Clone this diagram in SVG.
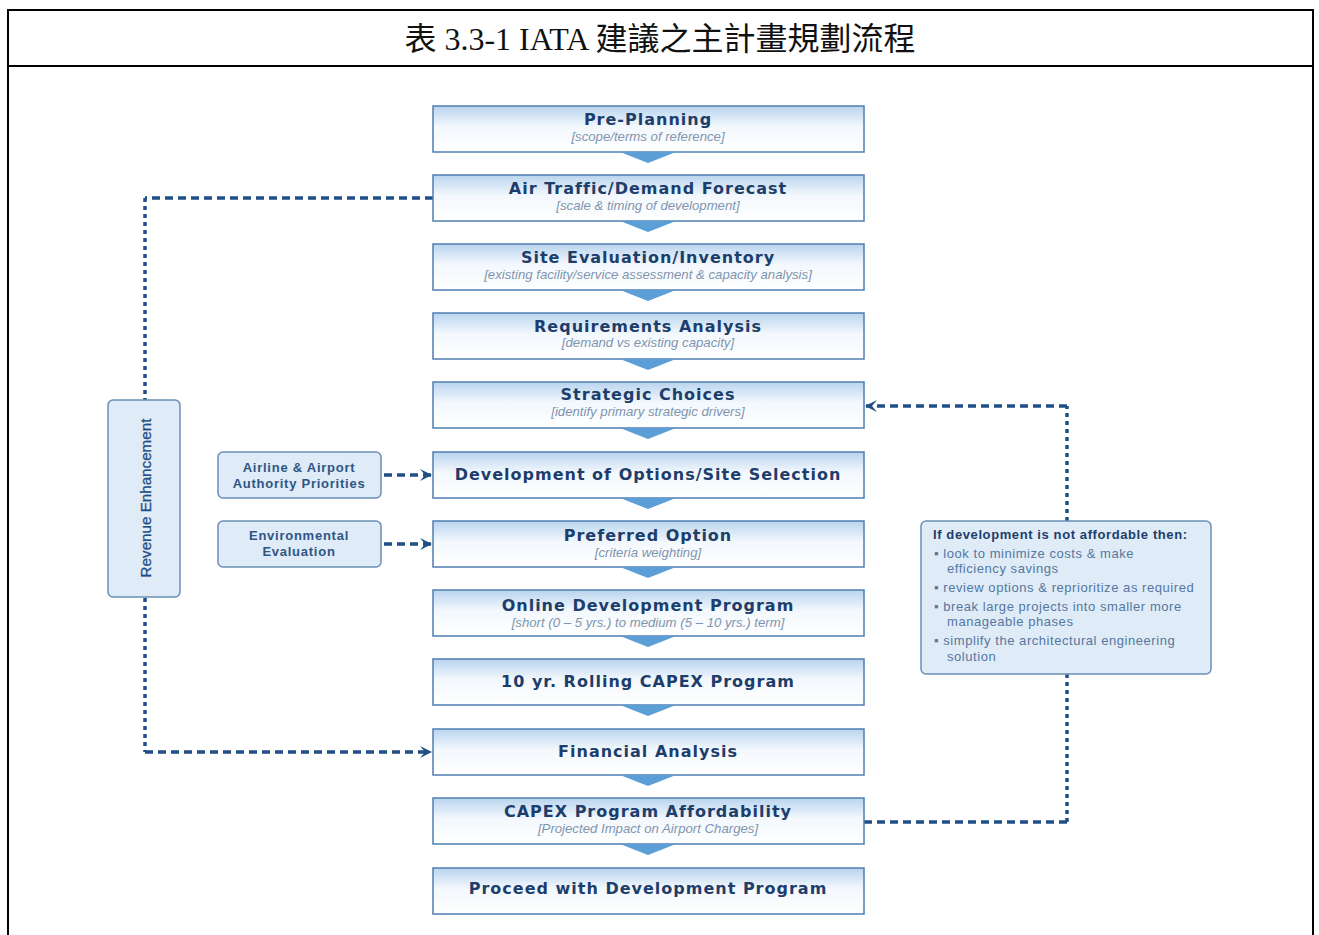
<svg xmlns="http://www.w3.org/2000/svg" width="1319" height="935" viewBox="0 0 1319 935">
<defs>
<linearGradient id="boxg" x1="0" y1="0" x2="0" y2="1">
<stop offset="0" stop-color="#b9d4ee"/>
<stop offset="0.45" stop-color="#f3f8fd"/>
<stop offset="1" stop-color="#ffffff"/>
</linearGradient>
<marker id="arr" viewBox="0 0 12 12" refX="11" refY="6" markerWidth="12" markerHeight="12" markerUnits="userSpaceOnUse" orient="auto">
<path d="M0,0 L12,6 L0,12 L5,6 Z" fill="#1f4f85"/>
</marker>
<style>
.frame{fill:none;stroke:#000;stroke-width:2}
.box{fill:url(#boxg);stroke:#4f7fb0;stroke-width:1.5}
.tri{fill:#5b9fd6}
.side{fill:#dfebf7;stroke:#6a90b8;stroke-width:1.5}
.t{font-family:"DejaVu Sans",sans-serif;font-weight:bold;font-size:16px;fill:#1d3e6b;text-anchor:middle;letter-spacing:1px}
.s{font-family:"Liberation Sans",sans-serif;font-style:italic;font-size:13.2px;fill:#7f95ae;text-anchor:middle}
.l{font-family:"Liberation Sans",sans-serif;font-weight:bold;font-size:13px;fill:#2e5585;text-anchor:middle;letter-spacing:0.75px}
.r{font-family:"Liberation Sans",sans-serif;font-size:13px;fill:#5577a0;letter-spacing:0.55px}
.rb{font-family:"Liberation Sans",sans-serif;font-weight:bold;font-size:13px;fill:#1d3e6b;letter-spacing:0.6px}
.d{fill:none;stroke:#1f4f85;stroke-width:3.5;stroke-dasharray:8 5}
.dv{fill:none;stroke:#1f4f85;stroke-width:3.5;stroke-dasharray:4 4}
.cap{font-family:"Liberation Serif","Noto Sans CJK TC",serif;font-size:32px;fill:#111;text-anchor:middle}
</style>
</defs>
<g id="frame">
<path class="frame" d="M8,935 V10 H1313 V935 M8,66 H1313"/>
<text class="cap" x="660" y="50">表 3.3-1 IATA 建議之主計畫規劃流程</text>
</g>
<g id="connectors">
<path class="d" d="M433,198 H145"/>
<path class="dv" d="M145,198 V400"/>
<path class="dv" d="M145,598 V752"/>
<path class="d" d="M145,752 H431" marker-end="url(#arr)"/>
<path class="d" d="M384,475 H431" marker-end="url(#arr)"/>
<path class="d" d="M384,544 H431" marker-end="url(#arr)"/>
<path class="d" d="M864,822 H1067"/>
<path class="dv" d="M1067,822 V674"/>
<path class="dv" d="M1067,521 V406"/>
<path class="d" d="M1067,406 H866" marker-end="url(#arr)"/>
</g>
<g id="n1"><rect class="box" x="433" y="106" width="431" height="46"/><path class="tri" d="M620,152 H676 L648,163 Z"/><text class="t" x="648" y="125">Pre-Planning</text><text class="s" x="648" y="141">[scope/terms of reference]</text></g>
<g id="n2"><rect class="box" x="433" y="175" width="431" height="46"/><path class="tri" d="M620,221 H676 L648,232 Z"/><text class="t" x="648" y="194">Air Traffic/Demand Forecast</text><text class="s" x="648" y="210">[scale &amp; timing of development]</text></g>
<g id="n3"><rect class="box" x="433" y="244" width="431" height="46"/><path class="tri" d="M620,290 H676 L648,301 Z"/><text class="t" x="648" y="263">Site Evaluation/Inventory</text><text class="s" x="648" y="279">[existing facility/service assessment &amp; capacity analysis]</text></g>
<g id="n4"><rect class="box" x="433" y="313" width="431" height="46"/><path class="tri" d="M620,359 H676 L648,370 Z"/><text class="t" x="648" y="332">Requirements Analysis</text><text class="s" x="648" y="347">[demand vs existing capacity]</text></g>
<g id="n5"><rect class="box" x="433" y="382" width="431" height="46"/><path class="tri" d="M620,428 H676 L648,439 Z"/><text class="t" x="648" y="400">Strategic Choices</text><text class="s" x="648" y="416">[identify primary strategic drivers]</text></g>
<g id="n6"><rect class="box" x="433" y="452" width="431" height="46"/><path class="tri" d="M620,498 H676 L648,509 Z"/><text class="t" x="648" y="480">Development of Options/Site Selection</text></g>
<g id="n7"><rect class="box" x="433" y="521" width="431" height="46"/><path class="tri" d="M620,567 H676 L648,578 Z"/><text class="t" x="648" y="541">Preferred Option</text><text class="s" x="648" y="557">[criteria weighting]</text></g>
<g id="n8"><rect class="box" x="433" y="590" width="431" height="46"/><path class="tri" d="M620,636 H676 L648,647 Z"/><text class="t" x="648" y="611">Online Development Program</text><text class="s" x="648" y="627">[short (0 – 5 yrs.) to medium (5 – 10 yrs.) term]</text></g>
<g id="n9"><rect class="box" x="433" y="659" width="431" height="46"/><path class="tri" d="M620,705 H676 L648,716 Z"/><text class="t" x="648" y="687">10 yr. Rolling CAPEX Program</text></g>
<g id="n10"><rect class="box" x="433" y="729" width="431" height="46"/><path class="tri" d="M620,775 H676 L648,786 Z"/><text class="t" x="648" y="757">Financial Analysis</text></g>
<g id="n11"><rect class="box" x="433" y="798" width="431" height="46"/><path class="tri" d="M620,844 H676 L648,855 Z"/><text class="t" x="648" y="817">CAPEX Program Affordability</text><text class="s" x="648" y="833">[Projected Impact on Airport Charges]</text></g>
<g id="n12"><rect class="box" x="433" y="868" width="431" height="46"/><text class="t" x="648" y="894">Proceed with Development Program</text></g>
<g id="revenue"><rect class="side" x="108" y="400" width="72" height="197" rx="5"/><text x="0" y="0" transform="translate(151,498) rotate(-90)" style="font-family:'Liberation Sans',sans-serif;font-size:15.2px;fill:#1f4f85;text-anchor:middle;stroke:#1f4f85;stroke-width:0.3">Revenue Enhancement</text></g>
<g id="airline"><rect class="side" x="218" y="452" width="163" height="46" rx="5"/><text class="l" x="299" y="472">Airline &amp; Airport</text><text class="l" x="299" y="488">Authority Priorities</text></g>
<g id="env"><rect class="side" x="218" y="521" width="163" height="46" rx="5"/><text class="l" x="299" y="540">Environmental</text><text class="l" x="299" y="556">Evaluation</text></g>
<g id="afford"><rect class="side" x="921" y="521" width="290" height="153" rx="5"/>
<text class="rb" x="933" y="539">If development is not affordable then:</text>
<text class="r" x="934" y="558">▪ look to minimize costs &amp; make</text>
<text class="r" x="947" y="573">efficiency savings</text>
<text class="r" x="934" y="592">▪ review options &amp; reprioritize as required</text>
<text class="r" x="934" y="611">▪ break large projects into smaller more</text>
<text class="r" x="947" y="626">manageable phases</text>
<text class="r" x="934" y="645">▪ simplify the architectural engineering</text>
<text class="r" x="947" y="661">solution</text>
</g>
</svg>
